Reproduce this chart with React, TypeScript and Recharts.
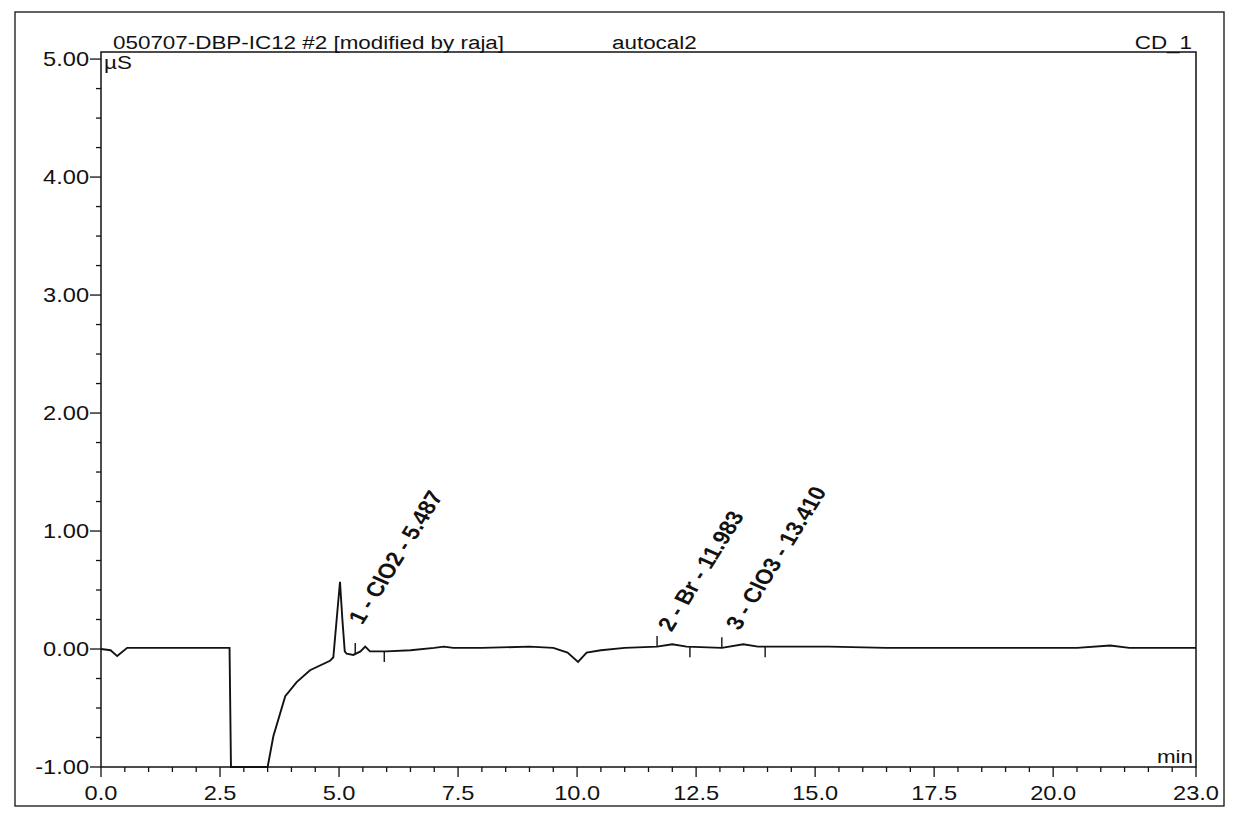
import { LineChart, Line, XAxis, YAxis, ReferenceArea, ReferenceLine, ReferenceDot } from 'recharts'

const INK = '#121212'
const FONT = 'Arial, "Liberation Sans", Helvetica, sans-serif'
// the printout was scanned a bit wide, so text is stretched horizontally
const STRETCH = 1.18

// retention time (min) and conductivity (µS)
const time = [
  0.0, 0.2, 0.34, 0.55, 1.0, 2.0, 2.7, 2.73, 3.5, 3.62, 3.87, 4.11, 4.39, 4.81, 4.88,
  4.95, 5.02, 5.07, 5.12, 5.16, 5.3, 5.45, 5.55, 5.65, 6.0, 6.5, 7.0, 7.2, 7.4, 8.0,
  9.0, 9.5, 9.8, 10.02, 10.2, 10.5, 11.0, 11.68, 12.0, 12.3, 13.04, 13.49, 13.8, 15.3,
  16.5, 18.0, 19.5, 20.5, 21.2, 21.6, 23.0,
]
const signal = [
  0.0, -0.01, -0.06, 0.01, 0.01, 0.01, 0.01, -1.0, -1.0, -0.74, -0.4, -0.28, -0.18, -0.1, -0.07,
  0.25, 0.57, 0.25, -0.02, -0.04, -0.05, -0.02, 0.02, -0.02, -0.02, -0.01, 0.01, 0.02, 0.01, 0.01,
  0.02, 0.01, -0.03, -0.11, -0.03, -0.01, 0.01, 0.02, 0.04, 0.02, 0.01, 0.04, 0.02, 0.02,
  0.01, 0.01, 0.01, 0.01, 0.03, 0.01, 0.01,
]

const xMajor = [0, 2.5, 5, 7.5, 10, 12.5, 15, 17.5, 20, 23]
const xMinorStep = 0.5
const yMajor = [-1, 0, 1, 2, 3, 4, 5]
const yMinorStep = 0.25
const yTop = 5.06

const peakNames = ['1 - ClO2 - 5.487', '2 - Br - 11.983', '3 - ClO3 - 13.410']
const peakTimes = [5.487, 11.983, 13.41]
const peakLabelLevel = [0.2, 0.14, 0.15]
const peakStart = [5.34, 11.68, 13.04]
const peakStartLevel = [-0.04, 0.02, 0.01]
const peakEnd = [5.95, 12.37, 13.95]
const peakEndLevel = [-0.02, 0.02, 0.02]

const data = time.map((t, i) => ({ t, v: signal[i] }))

function steps(from: number, to: number, step: number) {
  const out: number[] = []
  for (let v = from; v <= to + 1e-9; v += step) out.push(Math.round(v * 100) / 100)
  return out
}
const xTicks = steps(0, 23, xMinorStep)
const yTicks = steps(-1, 5, yMinorStep)
const isMajor = (list: number[], v: number) => list.some((m) => Math.abs(m - v) < 1e-6)

function Txt({ x, y, anchor = 'start', size = 19, weight = 400, rotate = 0, children }: any) {
  const tf = `translate(${x},${y}) scale(${STRETCH},1)` + (rotate ? ` rotate(${rotate})` : '')
  return (
    <text transform={tf} textAnchor={anchor} fontFamily={FONT} fontSize={size} fontWeight={weight} fill={INK}>
      {children}
    </text>
  )
}

function XTick({ x, y, payload }: any) {
  const major = isMajor(xMajor, payload.value)
  return (
    <g>
      <line x1={x} x2={x} y1={y} y2={y + (major ? 10 : 5)} stroke={INK} strokeWidth={1.3} />
      {major && <Txt x={x} y={y + 33} anchor="middle" size={20}>{payload.value.toFixed(1)}</Txt>}
    </g>
  )
}

function YTick({ x, y, payload }: any) {
  const major = isMajor(yMajor, payload.value)
  return (
    <g>
      <line x1={x} x2={x - (major ? 11 : 5)} y1={y} y2={y} stroke={INK} strokeWidth={1.3} />
      {major && <Txt x={x - 12} y={y + 7} anchor="end" size={20}>{payload.value.toFixed(2)}</Txt>}
    </g>
  )
}

const W = 1233
const H = 823
// axes take 1px each (an axis of zero size is not drawn at all)
const M = { top: 52, right: 37, bottom: 55, left: 100 }

export default function App() {
  const plotTop = M.top
  const plotBottom = H - M.bottom - 1
  const plotLeft = M.left + 1
  const plotRight = W - M.right
  return (
    <div style={{ position: 'absolute', left: 0, top: 0, width: W, height: H, background: '#fff' }}>
      <LineChart width={W} height={H} data={data} margin={M}>
        <XAxis
          dataKey="t"
          type="number"
          domain={[0, 23]}
          ticks={xTicks}
          interval={0}
          height={1}
          tickSize={0}
          tickMargin={0}
          axisLine={false}
          tickLine={false}
          tick={(p: any) => <XTick {...p} />}
        />
        <YAxis
          type="number"
          domain={[-1, yTop]}
          ticks={yTicks}
          interval={0}
          width={1}
          tickSize={0}
          tickMargin={0}
          axisLine={false}
          tickLine={false}
          tick={(p: any) => <YTick {...p} />}
        />
        <ReferenceArea x1={0} x2={23} y1={-1} y2={yTop} fill="none" stroke={INK} strokeWidth={1.5} />
        {peakStart.map((t, i) => (
          <ReferenceLine
            key={'s' + i}
            segment={[{ x: t, y: peakStartLevel[i] }, { x: t, y: peakStartLevel[i] + 0.09 }]}
            stroke={INK}
            strokeWidth={1.4}
          />
        ))}
        {peakEnd.map((t, i) => (
          <ReferenceLine
            key={'e' + i}
            segment={[{ x: t, y: peakEndLevel[i] }, { x: t, y: peakEndLevel[i] - 0.09 }]}
            stroke={INK}
            strokeWidth={1.4}
          />
        ))}
        <Line type="linear" dataKey="v" stroke={INK} strokeWidth={1.9} dot={false} isAnimationActive={false} />
        {peakNames.map((name, i) => (
          <ReferenceDot
            key={name}
            x={peakTimes[i]}
            y={peakLabelLevel[i]}
            r={1}
            shape={(p: any) => (
              <Txt x={p.cx} y={p.cy} rotate={-62} weight={700} size={20.5}>
                {name}
              </Txt>
            )}
          />
        ))}
      </LineChart>
      <svg width={W} height={H} style={{ position: 'absolute', left: 0, top: 0, pointerEvents: 'none' }}>
        <rect x={15} y={12} width={1209} height={794} fill="none" stroke={INK} strokeWidth={1.3} />
        <Txt x={113} y={plotTop - 3}>050707-DBP-IC12 #2 [modified by raja]</Txt>
        <Txt x={612} y={plotTop - 3}>autocal2</Txt>
        <Txt x={plotRight - 4} y={plotTop - 3} anchor="end">CD_1</Txt>
        <Txt x={plotLeft + 3} y={plotTop + 17}>µS</Txt>
        <Txt x={plotRight - 3} y={plotBottom - 4} anchor="end">min</Txt>
      </svg>
    </div>
  )
}
